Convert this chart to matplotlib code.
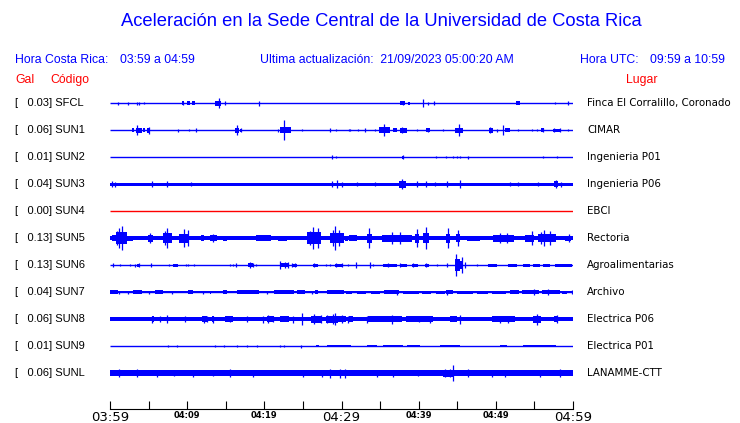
import numpy as np
import matplotlib
matplotlib.use("Agg")
import matplotlib.pyplot as plt

# station table
codes = ["SFCL", "SUN1", "SUN2", "SUN3", "SUN4", "SUN5", "SUN6", "SUN7", "SUN8", "SUN9", "SUNL"]
places = ["Finca El Corralillo, Coronado", "CIMAR", "Ingenieria P01", "Ingenieria P06", "EBCI",
          "Rectoria", "Agroalimentarias", "Archivo", "Electrica P06", "Electrica P01", "LANAMME-CTT"]
gal = [0.03, 0.06, 0.01, 0.04, 0.00, 0.13, 0.13, 0.04, 0.06, 0.01, 0.06]
# background noise half-width of each trace (same units as spikes)
base_noise = [0.5, 0.5, 0.5, 1.5, 0.5, 2.0, 0.6, 1.0, 2.2, 0.5, 2.6]
no_data = ["SUN4"]

# minutes after 03:59, deflection
sfcl_spikes = [(1.04, 1.5), (2.33, 1.5), (3.5, 1.5), (3.76, 1.5), (4.41, 1), (9.46, 1.5), (14.1, 5),
               (14.9, 2), (19.31, 2.5), (37.97, 2), (40.56, 4), (41.21, 1.5), (41.99, 2), (57.67, 1), (59.35, 2)]
sfcl_blocks = [(9.3, 9.6, 2), (10.0, 10.4, 2), (10.6, 11.0, 2), (13.6, 14.4, 2.5), (37.6, 38.2, 2),
               (38.6, 38.9, 1.5), (52.6, 53.1, 2)]

sun1_spikes = [(3.5, 5), (5.0, 3.5), (8.81, 1.5), (10.24, 1), (11.14, 2), (16.46, 5), (16.98, 2), (21.77, 1.5),
               (22.55, 10), (24.88, 1), (28.51, 2), (29.29, 1), (30.97, 1), (31.1, 1), (32.14, 1), (33.04, 2),
               (34.34, 1), (35.51, 6), (37.84, 3), (39.78, 1), (41.21, 2), (43.15, 1), (45.22, 6), (49.24, 3),
               (50.15, 1.5), (50.93, 5), (52.87, 1), (54.68, 1), (55.33, 1), (56.11, 2), (57.5, 2), (58.3, 2),
               (59.35, 1)]
sun1_blocks = [(2.9, 3.1, 2), (3.4, 4.2, 2.5), (4.3, 4.5, 2), (4.8, 5.2, 2.5), (16.2, 16.7, 2.5), (16.9, 17.1, 1.5),
               (22.0, 23.4, 3), (34.9, 36.3, 3), (36.7, 37.2, 2), (37.6, 38.5, 2.5), (41.0, 41.5, 2),
               (44.7, 45.8, 2.5), (49.1, 49.6, 2.5), (51.2, 51.8, 2), (55.9, 56.3, 2), (57.4, 58.4, 1.5)]

sun2_spikes = [(28.77, 2), (29.29, 1), (37.97, 2), (42.24, 1), (43.54, 1), (44.45, 1), (44.97, 1), (45.35, 1),
               (46.39, 1.5), (56.11, 1), (57.92, 1)]
sun2_blocks = [(37.8, 38.1, 1.5)]

sun3_spikes = [(0.26, 3), (0.65, 2.5), (5.44, 3), (7.39, 3), (10.5, 2), (28.77, 3), (29.42, 4), (30.06, 2.5),
               (32.01, 2), (34.34, 2), (37.84, 5), (39.78, 3), (40.95, 3), (42.11, 2), (43.67, 3), (45.35, 4),
               (51.83, 2), (52.87, 2), (55.46, 2), (57.79, 4), (58.4, 2.5)]
sun3_blocks = [(37.5, 38.3, 3.5), (57.6, 58.1, 3)]

sun4_spikes = []
sun4_blocks = []

sun5_spikes = [(1.55, 12), (1.2, 10), (0.9, 7), (7.4, 10), (7.1, 7), (9.6, 9), (10.1, 8), (5.2, 5), (13.4, 4),
               (26.3, 11), (27.0, 10), (25.9, 7), (29.2, 12), (28.9, 8), (29.7, 8), (33.6, 10), (36.5, 6),
               (37.6, 6), (39.8, 9), (40.9, 11), (43.8, 10), (45.1, 8), (50.5, 5), (51.4, 5), (54.7, 7),
               (56.2, 8), (57.0, 7), (55.8, 6), (59.5, 4)]
sun5_blocks = [(0.3, 0.8, 3), (0.8, 2.2, 6), (2.2, 3.0, 2.5), (4.9, 5.6, 3.5), (6.9, 8.0, 5), (9.0, 10.2, 4.5),
               (11.8, 12.2, 3), (13.0, 13.9, 3), (14.6, 15.2, 2.5), (18.9, 20.8, 3), (21.8, 23.0, 2.5),
               (25.5, 27.3, 6), (28.5, 30.3, 5), (30.4, 30.8, 2.5), (31.0, 32.0, 3), (33.3, 33.9, 4.5),
               (35.3, 39.2, 3.5), (39.5, 40.1, 4.5), (40.5, 41.3, 5), (43.5, 44.1, 4.5), (44.8, 45.4, 4),
               (46.3, 48.0, 2.5), (49.6, 52.3, 3.5), (53.8, 54.9, 3.5), (55.4, 57.8, 4), (59.0, 59.8, 2.5)]

sun6_spikes = [(0.39, 2), (1.3, 1), (2.59, 1), (3.24, 1.5), (3.76, 2), (5.31, 2), (7.65, 1), (9.85, 1), (10.11, 1),
               (10.88, 1), (15.55, 1), (15.94, 1), (16.33, 2), (18.14, 3), (18.53, 2), (18.92, 1), (22.03, 4),
               (22.68, 3), (23.07, 3), (23.58, 2), (23.97, 2), (26.5, 2), (27.99, 1), (28.51, 1), (29.3, 2),
               (30.06, 2), (30.84, 1), (31.88, 3), (33.69, 3), (34.08, 1), (36.0, 2), (37.58, 2), (39.26, 2),
               (40.95, 2), (42.37, 1), (43.67, 2), (44.9, 11), (45.61, 8), (46.0, 3), (47.56, 1)]
sun6_blocks = [(3.5, 3.9, 1.5), (8.2, 8.8, 1.5), (17.9, 18.5, 2), (22.0, 23.1, 2), (23.6, 24.2, 1.5),
               (26.3, 27.0, 1.5), (29.1, 30.1, 1.5), (35.4, 37.2, 1.5), (37.6, 38.5, 1.5), (39.1, 39.9, 1.5),
               (40.8, 41.3, 1.5), (44.7, 45.4, 6), (45.4, 45.7, 4), (49.0, 50.1, 1.5), (51.6, 52.7, 1.5),
               (53.5, 54.4, 1.5), (54.8, 55.7, 1.5), (56.1, 57.0, 1.5), (57.7, 59.9, 1.5)]

sun7_spikes = [(1.2, 1.5), (2.3, 1.5), (5.0, 1.5), (8.0, 1.5), (12.0, 1.5), (20.3, 1.5), (26.2, 1.5), (37.2, 2.5),
               (43.67, 2.5), (55.0, 3), (56.76, 3), (59.9, 2)]
sun7_blocks = [(0.0, 1.1, 1.8), (3.0, 4.2, 1.8), (5.8, 6.9, 1.8), (10.1, 10.8, 1.8), (12.9, 13.1, 1.5),
               (14.6, 15.2, 1.8), (16.5, 19.3, 1.8), (21.2, 23.8, 2.2), (24.2, 25.3, 1.8), (26.6, 27.0, 1.8),
               (28.1, 30.3, 1.8), (30.6, 31.3, 1.5), (32.0, 33.2, 1.5), (33.8, 35.0, 1.5), (35.5, 37.5, 1.8),
               (38.0, 40.0, 1.5), (40.4, 41.6, 1.5), (42.2, 43.4, 1.5), (43.6, 44.4, 1.8), (45.0, 47.0, 1.5),
               (47.5, 49.0, 1.5), (49.5, 51.3, 1.5), (51.8, 53.0, 1.8), (53.4, 55.6, 1.8), (56.0, 58.3, 1.8),
               (58.6, 59.2, 1.5)]

sun8_spikes = [(5.44, 3.5), (6.48, 3), (7.39, 4), (9.72, 3), (12.18, 3.5), (12.57, 3), (13.35, 3.5), (15.55, 3),
               (17.75, 3), (19.83, 3.5), (20.47, 4), (21.12, 3), (23.71, 3.5), (24.88, 6), (26.5, 5), (27.3, 4),
               (28.12, 4), (28.9, 5), (29.16, 6), (30.1, 4), (30.8, 3.5), (33.3, 3.5), (36.54, 4.5), (40.0, 3),
               (41.5, 3.5), (45.35, 4.5), (50.54, 3.5), (51.57, 3.5), (55.33, 5.5), (57.92, 4)]
sun8_blocks = [(5.4, 5.7, 3), (11.9, 12.6, 3), (13.2, 13.5, 3), (14.9, 15.9, 3), (20.3, 21.2, 3), (22.0, 23.2, 3),
               (26.0, 27.3, 3.5), (28.0, 29.6, 3.5), (29.6, 30.6, 3), (31.0, 31.5, 3), (33.4, 37.8, 3), (38.4, 41.9, 3),
               (44.0, 45.0, 2.8), (49.5, 52.5, 3), (54.8, 55.8, 3.5), (57.5, 58.0, 3)]

sun9_spikes = [(7.52, 1), (8.68, 1), (13.61, 1), (14.77, 1), (16.46, 1), (17.75, 1), (19.05, 1), (22.03, 1),
               (22.55, 1), (24.75, 1.5)]
sun9_blocks = [(26.7, 27.1, 1.3), (28.1, 30.5, 1.3), (30.5, 31.2, 1.2), (33.3, 34.6, 1.2), (35.4, 38.0, 1.2),
               (38.5, 40.2, 1.2), (42.8, 45.3, 1.2), (50.5, 51.4, 1.2), (53.5, 57.8, 1.2)]

sunl_spikes = [(1.17, 4), (3.5, 4), (6.09, 3.5), (8.29, 3), (10.76, 3.5), (13.35, 3), (15.55, 4), (18.53, 3.5),
               (25.01, 3.5), (27.47, 3.5), (28.51, 4.5), (29.8, 4.5), (30.45, 4.5), (34.6, 3.5), (36.67, 3.5),
               (39.91, 3), (43.4, 4), (44.1, 4), (44.45, 8), (46.39, 4), (49.5, 3.5), (51.19, 3.5), (55.72, 3.5),
               (58.31, 4)]
sunl_blocks = [(43.2, 44.4, 3.5)]

spikes = [sfcl_spikes, sun1_spikes, sun2_spikes, sun3_spikes, sun4_spikes, sun5_spikes,
          sun6_spikes, sun7_spikes, sun8_spikes, sun9_spikes, sunl_spikes]
blocks = [sfcl_blocks, sun1_blocks, sun2_blocks, sun3_blocks, sun4_blocks, sun5_blocks,
          sun6_blocks, sun7_blocks, sun8_blocks, sun9_blocks, sunl_blocks]

tick_minutes = list(range(0, 61, 5))
tick_labels = ["03:59", "", "04:09", "", "04:19", "", "04:29", "", "04:39", "", "04:49", "", "04:59"]

W, H = 740, 423
BLUE = "#0000FF"
RED = "#FF0000"
SCALE = 1 / 27.0   # deflection units per row spacing


def fx(x):
    return x / W


def fy(y):
    return 1 - y / H


fig = plt.figure(figsize=(W / 100, H / 100), dpi=100, facecolor="#FFFFFF")

ax = fig.add_axes([fx(110), fy(409), fx(573) - fx(110), fy(89.5) - fy(409)])
ax.set_xlim(0, 60)
ax.set_ylim(11.333, -0.5)

for i, code in enumerate(codes):
    color = RED if code in no_data else BLUE
    ax.plot([0, 60], [i, i], color=color, lw=1.0, solid_capstyle="butt")
    if code in no_data:
        continue
    b = base_noise[i]
    if b > 0.8:
        ax.fill_between([0, 60], i - b * SCALE, i + b * SCALE, color=BLUE, lw=0)
    for t0, t1, a in blocks[i]:
        ax.fill_between([t0, t1], i - a * SCALE, i + a * SCALE, color=BLUE, lw=0)
    if spikes[i]:
        t = [s[0] for s in spikes[i]]
        a = np.array([s[1] for s in spikes[i]])
        ax.vlines(t, i - a * SCALE, i + a * SCALE, color=BLUE, lw=0.9)

for s in ["top", "left", "right"]:
    ax.spines[s].set_visible(False)
ax.spines["bottom"].set_linewidth(0.8)
ax.set_yticks([])
ax.set_xticks(tick_minutes)
ax.set_xticklabels(tick_labels)
ax.tick_params(axis="x", direction="in", length=5.8, width=0.8, pad=1.5)
for lab in ax.get_xticklabels():
    if lab.get_text() in ("03:59", "04:29", "04:59"):
        lab.set_fontsize(9.5)
    else:
        lab.set_fontsize(6)
        lab.set_fontweight("bold")

sans = "Liberation Sans"
fig.text(fx(381), fy(21), "Aceleración en la Sede Central de la Universidad de Costa Rica",
         ha="center", va="center", color=BLUE, fontsize=13.2, family=sans)

hs = 8.8
fig.text(fx(15), fy(60), "Hora Costa Rica:", ha="left", va="center", color=BLUE, fontsize=hs, family=sans)
fig.text(fx(120), fy(60), "03:59 a 04:59", ha="left", va="center", color=BLUE, fontsize=hs, family=sans)
fig.text(fx(260), fy(60), "Ultima actualización:  21/09/2023 05:00:20 AM", ha="left", va="center",
         color=BLUE, fontsize=hs, family=sans)
fig.text(fx(580), fy(60), "Hora UTC:", ha="left", va="center", color=BLUE, fontsize=hs, family=sans)
fig.text(fx(650), fy(60), "09:59 a 10:59", ha="left", va="center", color=BLUE, fontsize=hs, family=sans)

fig.text(fx(15), fy(80), "Gal", ha="left", va="center", color=RED, fontsize=hs, family=sans)
fig.text(fx(50), fy(80), "Código", ha="left", va="center", color=RED, fontsize=hs, family=sans)
fig.text(fx(642), fy(80), "Lugar", ha="center", va="center", color=RED, fontsize=hs, family=sans)

for i, code in enumerate(codes):
    y = 103 + 27 * i
    fig.text(fx(15), fy(y), f"[   {gal[i]:.2f}] {code}", ha="left", va="center",
             color="black", fontsize=8, family=sans)
    fig.text(fx(587), fy(y), places[i], ha="left", va="center",
             color="black", fontsize=7.4, family="DejaVu Sans")

fig.savefig("out.png", dpi=100, facecolor="#FFFFFF")
